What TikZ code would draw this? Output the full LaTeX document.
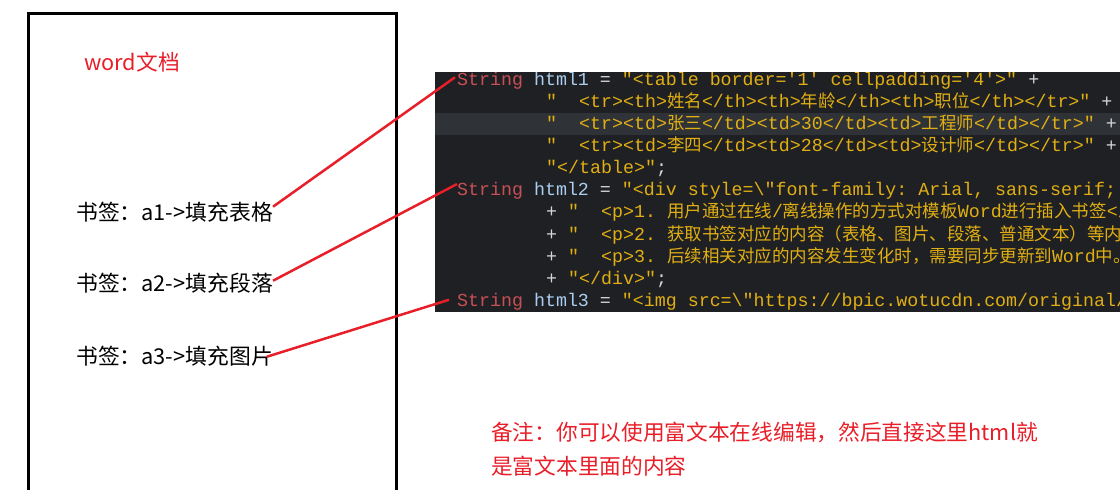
\documentclass[tikz,border=0pt]{standalone}
\usepackage{fontspec}
\setmainfont{Noto Sans CJK SC}
\setmonofont{Liberation Mono}
\newfontfamily\cjkfam{Noto Sans CJK SC}
\usetikzlibrary{calc}
\definecolor{codebg}{RGB}{30,32,35}
\definecolor{codehl}{RGB}{47,51,56}
\definecolor{codered}{RGB}{200,80,85}
\definecolor{codeblue}{RGB}{170,205,240}
\definecolor{codeyellow}{RGB}{225,175,20}
\definecolor{codewhite}{RGB}{215,215,215}
\definecolor{linered}{RGB}{232,30,40}
\newcommand\cjkc[1]{{\cjkfam\fontsize{17.5}{20}\selectfont #1}}
\newcommand\tkR[1]{\textcolor{codered}{#1}}
\newcommand\tkB[1]{\textcolor{codeblue}{#1}}
\newcommand\tkY[1]{\textcolor{codeyellow}{#1}}
\tikzset{
  code/.style={anchor=base west, inner sep=0pt, text=codewhite, font=\ttfamily\fontsize{18.3}{20}\selectfont},
  bmtext/.style={anchor=base west, inner sep=0pt, text=black, font=\fontsize{21.8}{24}\selectfont},
  redtext/.style={anchor=base west, inner sep=0pt, text=linered, font=\fontsize{21.7}{24}\selectfont},
  redline/.style={draw=linered, line width=2.5pt},
  docframe/.style={draw=black, line width=3pt}
}
\begin{document}
\begin{tikzpicture}[x=1pt,y=-1pt]
\useasboundingbox (0,0) rectangle (1120,490);
% word document frame
\draw[docframe] (28,500) -- (28,13) -- (396,13) -- (396,500);
\node[redtext] (title) at (84,70) {word文档};
\node[bmtext] (bm1) at (76,220) {书签：a1->填充表格};
\node[bmtext] (bm2) at (76,291) {书签：a2->填充段落};
\node[bmtext] (bm3) at (76,364) {书签：a3->填充图片};
% code panel
\fill[codebg] (435,72) rectangle (1120,312);
\fill[codehl] (435,113) rectangle (1120,135);
\begin{scope}
\clip (435,72) rectangle (1120,312);
\node[code] (s1) at (457,85) {\tkR{String} \tkB{html1} = \tkY{"<table border='1' cellpadding='4'>"} +};
\node[code] (s2) at (546,107.15) {\tkY{"~~<tr><th>\cjkc{姓名}</th><th>\cjkc{年龄}</th><th>\cjkc{职位}</th></tr>"} +};
\node[code] (s3) at (546,129.3) {\tkY{"~~<tr><td>\cjkc{张三}</td><td>30</td><td>\cjkc{工程师}</td></tr>"} +};
\node[code] (s4) at (546,151.45) {\tkY{"~~<tr><td>\cjkc{李四}</td><td>28</td><td>\cjkc{设计师}</td></tr>"} +};
\node[code] (s5) at (546,173.6) {\tkY{"</table>"};};
\node[code] (s6) at (457,195.75) {\tkR{String} \tkB{html2} = \tkY{"<div style=\textbackslash"font-family: Arial, sans-serif;}};
\node[code] (s7) at (546,217.9) {+ \tkY{"~~<p>1. \cjkc{用户通过在线}/\cjkc{离线操作的方式对模板}Word\cjkc{进行插入书签}</p}};
\node[code] (s8) at (546,240.05) {+ \tkY{"~~<p>2. \cjkc{获取书签对应的内容（表格、图片、段落、普通文本）等内容}}};
\node[code] (s9) at (546,262.2) {+ \tkY{"~~<p>3. \cjkc{后续相关对应的内容发生变化时，需要同步更新到}Word\cjkc{中。}<}};
\node[code] (s10) at (546,284.35) {+ \tkY{"</div>"};};
\node[code] (s11) at (457,306.5) {\tkR{String} \tkB{html3} = \tkY{"<img src=\textbackslash"https://bpic.wotucdn.com/original/}};
\end{scope}
% connectors
\draw[redline] ($(bm1.east)+(0,-5)$) -- ($(s1.west)+(-2,-3)$);
\draw[redline] ($(bm2.east)+(0,-2)$) -- ($(s6.west)+(0,-7)$);
\draw[redline] ($(bm3.east)+(-6,1)$) -- ($(s11.west)+(-8,-2)$);
% note
\node[redtext] (note1) at (491,440) {备注：你可以使用富文本在线编辑，然后直接这里html就};
\node[redtext] (note2) at (491,474) {是富文本里面的内容};
\end{tikzpicture}
\end{document}
